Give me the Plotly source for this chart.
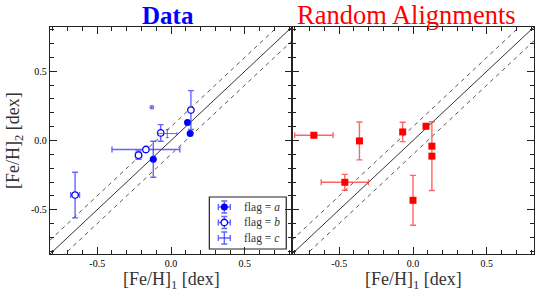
import plotly.graph_objects as go

# ---- data ----
a_x = [0.112, 0.13, -0.12]
a_y = [0.13, 0.05, -0.135]
a_xerr = [0.0, 0.0, 0.0]
a_yerr = [0.0, 0.0, 0.13]

b_x = [0.135, -0.07, -0.17, -0.22, -0.65]
b_y = [0.22, 0.055, -0.065, -0.106, -0.394]
b_xerr = [0.0, 0.015, 0.23, 0.02, 0.03]
b_yerr = [0.14, 0.06, 0.01, 0.03, 0.165]

c_x = [-0.13, -0.025]
c_y = [0.24, 0.05]
c_xerr = [0.012, 0.065]
c_yerr = [0.012, 0.03]

r_x = [-0.672, -0.363, -0.07, 0.088, 0.128, 0.128, -0.462, 0.0]
r_y = [0.038, -0.003, 0.062, 0.103, -0.041, -0.113, -0.302, -0.432]
r_xerr = [0.13, 0.0, 0.0, 0.0, 0.0, 0.0, 0.16, 0.0]
r_yerr = [0.0, 0.137, 0.07, 0.0, 0.0, 0.248, 0.057, 0.18]

legend_labels = ["flag = <i>a</i>", "flag = <i>b</i>", "flag = <i>c</i>"]

axis_range = [-0.82, 0.82]
offset = 0.1
tick_vals = [-0.5, 0.0, 0.5]
tick_text = ["-0.5", "0.0", "0.5"]

FONT = "Liberation Serif"
BLUE = "#0000ff"
BLUE_ERR = "rgba(50,50,255,0.75)"
RED = "#ff0000"
RED_ERR = "rgba(255,50,50,0.75)"

W, H = 540, 296
ml, mr, mt, mb = 49.5, 6, 27, 42
pw = W - ml - mr
ph = H - mt - mb

fig = go.Figure()

def err(vals, color, w=3, t=1.4):
    return dict(type="data", array=vals, visible=True, color=color, thickness=t, width=w)

# legend box first so that it lies beneath everything
leg_box = dict(x0=209, x1=286, y0=197, y1=249)
leg_sym_x = 224
leg_txt_x = 242
leg_rows = [207, 222.5, 238]
leg_half = 6
fig.add_shape(type="rect", xref="x3", yref="y3", **leg_box,
              line=dict(color="#222", width=1.2), fillcolor="white", layer="below")

fig.add_trace(go.Scatter(x=a_x, y=a_y, mode="markers", name=legend_labels[0], showlegend=False,
                         marker=dict(symbol="circle", size=7, color=BLUE),
                         error_x=err(a_xerr, BLUE_ERR), error_y=err(a_yerr, BLUE_ERR),
                         xaxis="x", yaxis="y"))
fig.add_trace(go.Scatter(x=b_x, y=b_y, mode="markers", name=legend_labels[1], showlegend=False,
                         marker=dict(symbol="circle", size=6.5, color="white",
                                     line=dict(color=BLUE, width=1.3)),
                         error_x=err(b_xerr, BLUE_ERR), error_y=err(b_yerr, BLUE_ERR),
                         xaxis="x", yaxis="y"))
fig.add_trace(go.Scatter(x=c_x, y=c_y, mode="markers", name=legend_labels[2], showlegend=False,
                         marker=dict(size=1, color="rgba(0,0,0,0)"),
                         error_x=err(c_xerr, BLUE_ERR, 1.5, 1), error_y=err(c_yerr, BLUE_ERR, 1.5, 1),
                         xaxis="x", yaxis="y"))
fig.add_trace(go.Scatter(x=r_x, y=r_y, mode="markers", showlegend=False,
                         marker=dict(symbol="square", size=7, color=RED),
                         error_x=err(r_xerr, RED_ERR), error_y=err(r_yerr, RED_ERR),
                         xaxis="x2", yaxis="y2"))

# one-to-one and offset lines
for xr, yr in (("x", "y"), ("x2", "y2")):
    fig.add_shape(type="line", xref=xr, yref=yr, x0=axis_range[0], y0=axis_range[0],
                  x1=axis_range[1], y1=axis_range[1], line=dict(color="#333", width=1), layer="below")
    for s in (offset, -offset):
        fig.add_shape(type="line", xref=xr, yref=yr, x0=axis_range[0], y0=axis_range[0] + s,
                      x1=axis_range[1], y1=axis_range[1] + s,
                      line=dict(color="#555", width=1, dash="4px,4px"), layer="below")

# ---- hand-made legend on a pixel-unit overlay axis ----
leg_styles = [
    dict(symbol="circle", size=7, color=BLUE),
    dict(symbol="circle", size=6.5, color="white", line=dict(color=BLUE, width=1.3)),
    dict(size=1, color="rgba(0,0,0,0)"),
]
for ry, st in zip(leg_rows, leg_styles):
    fig.add_trace(go.Scatter(x=[leg_sym_x], y=[ry], mode="markers", showlegend=False,
                             marker=st, hoverinfo="skip",
                             error_x=err([leg_half], BLUE_ERR), error_y=err([leg_half], BLUE_ERR),
                             xaxis="x3", yaxis="y3"))
for ry, lab in zip(leg_rows, legend_labels):
    fig.add_annotation(text=lab, xref="x3", yref="y3", x=leg_txt_x, y=ry, showarrow=False,
                       xanchor="left", yanchor="middle",
                       font=dict(family=FONT, size=11.5, color="#333"))

ax_common = dict(range=axis_range, showgrid=False, zeroline=False, showline=True,
                 linecolor="#222", linewidth=1.3, mirror="allticks", ticks="inside",
                 ticklen=7, tickwidth=1.2, tickcolor="#222",
                 tickvals=tick_vals, ticktext=tick_text,
                 tickfont=dict(family=FONT, size=10, color="black"),
                 minor=dict(dtick=0.1, tick0=0, ticks="inside", ticklen=3.5,
                            tickwidth=1, tickcolor="#222"))

fig.update_layout(
    width=W, height=H,
    margin=dict(l=ml, r=mr, t=mt, b=mb),
    plot_bgcolor="white", paper_bgcolor="white",
    font=dict(family=FONT, color="black"),
    xaxis=dict(domain=[0, 0.5], anchor="y", **ax_common),
    yaxis=dict(domain=[0, 1], anchor="x", **ax_common),
    xaxis2=dict(domain=[0.5, 1], anchor="y2", **ax_common),
    yaxis2=dict(domain=[0, 1], anchor="x2", **ax_common),
    xaxis3=dict(overlaying="x", anchor="y3", range=[ml, ml + pw / 2], visible=False),
    yaxis3=dict(overlaying="y", anchor="x3", range=[H - mb, mt], visible=False),
    showlegend=False,
)
fig.update_layout(yaxis2=dict(showticklabels=False))

fig.add_annotation(text="<b>Data</b>", xref="paper", yref="paper", x=0.243, y=(ph + mt - 15) / ph,
                   showarrow=False, font=dict(family=FONT, size=25, color=BLUE),
                   xanchor="center", yanchor="middle")
fig.add_annotation(text="Random Alignments", xref="paper", yref="paper", x=0.737, y=(ph + mt - 15) / ph,
                   showarrow=False, font=dict(family=FONT, size=26.5, color=RED),
                   xanchor="center", yanchor="middle")
for xc in (0.25, 0.75):
    fig.add_annotation(text="[Fe/H]<sub>1</sub> [dex]", xref="paper", yref="paper", x=xc,
                       y=-(280 - (H - mb)) / ph, showarrow=False,
                       font=dict(family=FONT, size=18, color="#333"),
                       xanchor="center", yanchor="middle")
fig.add_annotation(text="[Fe/H]<sub>2</sub> [dex]", xref="paper", yref="paper",
                   x=-(ml - 14) / pw, y=0.5, textangle=-90, showarrow=False,
                   font=dict(family=FONT, size=18, color="#333"),
                   xanchor="center", yanchor="middle")

fig.write_html("out.html", config={"displayModeBar": False},
               post_script="document.body.style.margin='0';document.body.style.padding='0';")
